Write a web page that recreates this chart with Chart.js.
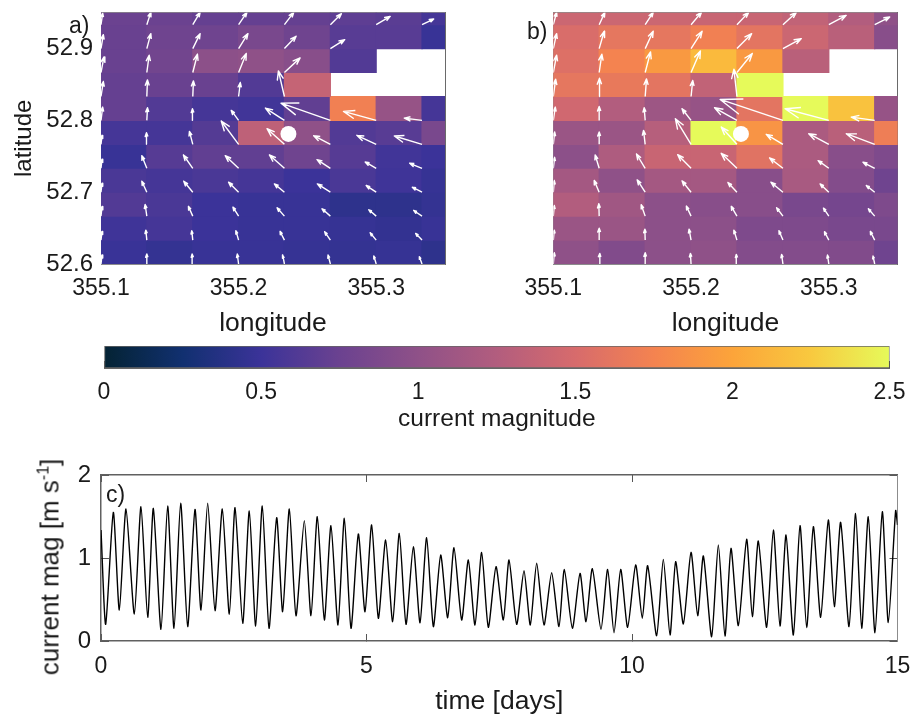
<!DOCTYPE html>
<html>
<head>
<meta charset="utf-8">
<title>current magnitude</title>
<script src="https://cdn.jsdelivr.net/npm/chart.js@4"></script>
<style>
  body { margin: 0; background: #fff; }
  #page { position: relative; width: 910px; height: 715px; overflow: hidden; }
  canvas { position: absolute; }
  .tag { position: absolute; font: 23px "Liberation Sans", sans-serif; color: #1a1a1a; }
  #seriesLabel { left: 50px; top: 567px; font-size: 26px; white-space: nowrap; transform: translate(-50%, -50%) rotate(-90deg); }
  #seriesLabel sup { font-size: 16px; line-height: 0; }
</style>
</head>
<body>
<div id="page">
  <canvas id="mapA" width="460" height="340" style="left:0;top:0"></canvas>
  <canvas id="mapB" width="440" height="340" style="left:470px;top:0"></canvas>
  <canvas id="colorbar" width="910" height="100" style="left:0;top:335px"></canvas>
  <canvas id="series" width="910" height="255" style="left:0;top:460px"></canvas>
  <div class="tag" style="left:69px;top:12px">a)</div>
  <div class="tag" style="left:527px;top:18px">b)</div>
  <div class="tag" style="left:106px;top:481px">c)</div>
  <div class="tag" id="seriesLabel">current mag [m s<sup>-1</sup>]</div>
</div>
<script>
// grid nodes of the current maps
const lonEdges = [355.1, 355.1333, 355.1667, 355.2, 355.2333, 355.2667, 355.3, 355.3333, 355.3667];
const latEdges = [52.6, 52.6333, 52.6667, 52.7, 52.7333, 52.7667, 52.8, 52.8333, 52.8667, 52.9, 52.9333, 52.9667];
const lonTicks = [355.1, 355.2, 355.3];
const latTicks = [52.6, 52.7, 52.8, 52.9];
const siteLon = [355.2362];
const siteLat = [52.7812];

// cell magnitudes, south row first, null = land
const magA = [
  [0.49, 0.46, 0.48, 0.48, 0.47, 0.46, 0.47, 0.42],
  [0.52, 0.55, 0.50, 0.48, 0.48, 0.47, 0.45, 0.48],
  [0.62, 0.58, 0.50, 0.48, 0.48, 0.42, 0.42, 0.46],
  [0.58, 0.55, 0.58, 0.55, 0.50, 0.58, 0.52, 0.47],
  [0.48, 0.64, 0.70, 0.70, 0.78, 0.64, 0.53, 0.50],
  [0.55, 0.55, 0.63, 1.33, 1.00, 0.62, 0.65, 0.85],
  [0.72, 0.62, 0.55, 0.53, 0.70, 1.72, 1.05, 0.55],
  [0.72, 0.74, 0.74, 0.62, 1.38, null, null, null],
  [0.74, 0.80, 0.98, 1.00, 0.95, 0.62, null, null],
  [0.74, 0.78, 0.78, 0.85, 0.78, 0.65, 0.65, 0.48],
  [0.75, 0.75, 0.72, 0.72, 0.72, 0.68, 0.66, 0.55]
];
const magB = [
  [1.00, 0.90, 0.98, 1.00, 0.92, 0.92, 0.90, 0.78],
  [1.08, 1.08, 0.98, 0.98, 0.88, 0.88, 0.85, 0.85],
  [1.25, 1.12, 0.98, 0.95, 0.95, 0.85, 0.82, 0.88],
  [1.15, 1.00, 1.15, 1.15, 0.95, 1.18, 0.92, 0.78],
  [0.98, 1.22, 1.40, 1.40, 1.58, 1.20, 0.95, 0.88],
  [1.08, 1.08, 1.28, 2.50, 1.88, 1.20, 1.30, 1.70],
  [1.45, 1.25, 1.10, 1.05, 1.60, 2.50, 2.20, 1.05],
  [1.62, 1.65, 1.60, 1.35, 2.50, null, null, null],
  [1.55, 1.75, 1.92, 2.15, 1.92, 1.30, null, null],
  [1.52, 1.62, 1.62, 1.72, 1.60, 1.42, 1.30, 0.95],
  [1.42, 1.42, 1.42, 1.40, 1.40, 1.35, 1.25, 1.00]
];

// arrow components, same order as the cells
const uA = [
  [3, 0, -2, -4, -5, -7, -7, -8],
  [3, -3, -3, -8, -13, -17, -18, -19],
  [3, -5, -13, -17, -22, -25, -22, -25],
  [3, -15, -27, -30, -30, -39, -30, -29],
  [3, -15, -28, -40, -45, -40, -33, -37],
  [3, -1, -10, -52, -52, -50, -58, -83],
  [5, 2, -1, -22, -57, -148, -98, -53],
  [7, 2, 2, 5, -18, null, null, null],
  [9, 7, 14, 23, 47, null, null, null],
  [7, 12, 22, 28, 35, 43, null, null],
  [5, 12, 22, 25, 28, 33, 42, 35]
];
const vA = [
  [27, 30, 30, 30, 27, 27, 24, 22],
  [26, 30, 28, 28, 26, 25, 22, 20],
  [29, 35, 29, 27, 25, 22, 19, 17],
  [27, 33, 33, 30, 25, 25, 20, 15],
  [27, 38, 40, 38, 40, 26, 19, 15],
  [27, 35, 39, 70, 47, 26, 27, 25],
  [40, 38, 35, 30, 37, 52, 27, 7],
  [45, 50, 47, 42, 77, null, null, null],
  [47, 52, 55, 57, 44, null, null, null],
  [42, 45, 45, 45, 37, 27, null, null],
  [35, 37, 37, 37, 37, 33, 25, 17]
];
const uB = [
  [3, 2, 0, -2, -2, -4, -4, -5],
  [3, 0, -1, -6, -9, -12, -13, -13],
  [3, -1, -12, -14, -17, -19, -16, -19],
  [3, -15, -24, -27, -27, -36, -26, -25],
  [4, -12, -26, -40, -47, -40, -32, -35],
  [4, 0, -5, -47, -47, -50, -60, -85],
  [6, 0, -3, -27, -67, -188, -131, -70],
  [7, 1, 4, 5, -9, null, null, null],
  [10, 8, 16, 28, 46, null, null, null],
  [10, 15, 24, 33, 44, 55, null, null],
  [10, 17, 24, 31, 35, 40, 52, 45]
];
const vB = [
  [34, 32, 34, 32, 29, 29, 27, 24],
  [30, 36, 33, 33, 30, 28, 25, 26],
  [32, 37, 34, 30, 29, 25, 24, 22],
  [35, 35, 37, 34, 29, 30, 25, 20],
  [33, 40, 43, 41, 45, 31, 23, 18],
  [37, 37, 42, 77, 52, 30, 32, 32],
  [40, 42, 38, 35, 38, 63, 35, 10],
  [52, 55, 53, 48, 82, null, null, null],
  [52, 55, 62, 65, 57, null, null, null],
  [45, 52, 52, 52, 45, 30, null, null],
  [37, 37, 37, 37, 37, 37, 28, 23]
];

// colour scale
const barTicks = [0, 0.5, 1, 1.5, 2, 2.5];
const barMax = 2.5;
const thermal = ['#042333', '#113070', '#3b3399', '#6b4290', '#8f5188', '#b25d7e',
                 '#d76b6c', '#f48350', '#fca43a', '#f8c93f', '#e6fa5a'];

// panel c, peaks and troughs
const timeDays = [
  0, 0.088, 0.232, 0.345, 0.471, 0.628, 0.753, 0.879, 0.986, 1.13, 1.255, 1.375, 1.5, 1.632, 1.77, 1.883,
  2.009, 2.147, 2.285, 2.417, 2.524, 2.668, 2.793, 2.913, 3.038, 3.164, 3.308, 3.421, 3.547, 3.672, 3.829, 3.955,
  4.074, 4.206, 4.331, 4.463, 4.583, 4.708, 4.846, 4.972, 5.097, 5.223, 5.361, 5.493, 5.618, 5.744, 5.882, 6.008,
  6.133, 6.259, 6.397, 6.529, 6.648, 6.792, 6.918, 7.043, 7.169, 7.294, 7.439, 7.577, 7.684, 7.828, 7.966, 8.085,
  8.205, 8.343, 8.487, 8.625, 8.726, 8.877, 9.021, 9.134, 9.253, 9.416, 9.542, 9.661, 9.787, 9.918, 10.069, 10.194,
  10.295, 10.464, 10.59, 10.716, 10.822, 10.967, 11.111, 11.237, 11.344, 11.5, 11.626, 11.751, 11.864, 12.003, 12.159, 12.266,
  12.379, 12.536, 12.662, 12.787, 12.901, 13.039, 13.164, 13.289, 13.415, 13.553, 13.697, 13.81, 13.93, 14.087, 14.212, 14.325,
  14.45, 14.576, 14.714, 14.827, 14.965, 15
];
const currentMag = [
  1.337, 0.201, 1.55, 0.373, 1.59, 0.325, 1.618, 0.285, 1.598, 0.141, 1.627, 0.153, 1.659, 0.173, 1.586, 0.373,
  1.659, 0.365, 1.59, 0.321, 1.606, 0.213, 1.566, 0.181, 1.627, 0.153, 1.486, 0.353, 1.59, 0.305, 1.45, 0.305,
  1.498, 0.253, 1.39, 0.193, 1.478, 0.153, 1.289, 0.353, 1.398, 0.273, 1.217, 0.233, 1.297, 0.201, 1.137, 0.221,
  1.245, 0.173, 1.036, 0.281, 1.124, 0.253, 0.976, 0.193, 1.068, 0.165, 0.896, 0.253, 0.976, 0.201, 0.847, 0.193,
  0.936, 0.193, 0.823, 0.173, 0.863, 0.153, 0.815, 0.233, 0.871, 0.141, 0.863, 0.1, 0.863, 0.165, 0.916, 0.273,
  0.908, 0.064, 0.984, 0.072, 0.956, 0.205, 1.068, 0.305, 1.024, 0.052, 1.157, 0.06, 1.116, 0.185, 1.225, 0.293,
  1.205, 0.165, 1.337, 0.181, 1.277, 0.072, 1.39, 0.161, 1.378, 0.285, 1.458, 0.414, 1.43, 0.173, 1.538, 0.153,
  1.498, 0.1, 1.558, 0.221, 1.57, 1.398
];
const seriesXTicks = [0, 5, 10, 15];
const seriesYTicks = [0, 1, 2];

const FONT = '"Liberation Sans", Arial, sans-serif';
const TEXT = '#1a1a1a';
const FRAME = '#8c8c8c';

function hexRgb(hex) {
  return [1, 3, 5].map(i => parseInt(hex.slice(i, i + 2), 16));
}

function magColor(m) {
  const pos = Math.min(m / barMax, 1) * (thermal.length - 1);
  const i = Math.min(Math.floor(pos), thermal.length - 2);
  const a = hexRgb(thermal[i]), b = hexRgb(thermal[i + 1]);
  const f = pos - i;
  return 'rgb(' + a.map((c, k) => Math.round(c + (b[k] - c) * f)).join(',') + ')';
}

// one bar per cell, floating between its longitude edges
function cellData(mag) {
  const out = [], colors = [];
  mag.forEach((row, r) => row.forEach((m, c) => {
    if (m === null) return;
    out.push({ x: [lonEdges[c], lonEdges[c + 1]], y: (latEdges[r] + latEdges[r + 1]) / 2 });
    colors.push(magColor(m));
  }));
  return { out, colors };
}

// quiver polyline, head shape close to matlab quiver
const LON_UNIT = 0.1 / 412.5;
const LAT_UNIT = 0.1 / 216;
const HEAD_BACK = 0.33;
const HEAD_WIDE = 0.36;
function arrowData(u, v) {
  const pts = [];
  const at = (lon, lat, a, b) => ({ x: lon + a * LON_UNIT, y: lat + b * LAT_UNIT });
  u.forEach((row, r) => row.forEach((du, c) => {
    if (du === null) return;
    const dv = v[r][c], lon = lonEdges[c], lat = latEdges[r];
    const tip = at(lon, lat, du, dv);
    pts.push(at(lon, lat, 0, 0), tip);
    pts.push(at(lon, lat, du - HEAD_BACK * (du + HEAD_WIDE * dv), dv - HEAD_BACK * (dv - HEAD_WIDE * du)), tip);
    pts.push(at(lon, lat, du - HEAD_BACK * (du - HEAD_WIDE * dv), dv - HEAD_BACK * (dv + HEAD_WIDE * du)));
    pts.push({ x: NaN, y: NaN });
  }));
  return pts;
}

function fixedTicks(values) {
  return scale => { scale.ticks = values.map(value => ({ value })); };
}

// pin the axis box and stop tick labels from pushing the plot area in
function pinBox(size) {
  return s => {
    if (s.isHorizontal()) s.height = size; else s.width = size;
    s.paddingLeft = s.paddingRight = s.paddingTop = s.paddingBottom = 0;
  };
}

function edgeAxis(color, width) {
  return {
    offset: false,
    ticks: { display: false },
    grid: { drawOnChartArea: false, drawTicks: false, offset: false },
    border: { color, width },
    afterFit: pinBox(0)
  };
}

function mapChart(id, mag, u, v, yWidth, rightPad, showLat) {
  const cells = cellData(mag);
  new Chart(document.getElementById(id), {
    type: 'bar',
    data: {
      datasets: [
        { type: 'bar', indexAxis: 'y', data: cells.out, backgroundColor: cells.colors,
          grouped: false, categoryPercentage: 1, barPercentage: 1, inflateAmount: 0.6, order: 3 },
        { type: 'line', data: arrowData(u, v), borderColor: '#fff', borderWidth: 1.4,
          borderJoinStyle: 'round', pointRadius: 0, order: 2 },
        { type: 'scatter', data: [{ x: siteLon[0], y: siteLat[0] }], pointRadius: 8,
          backgroundColor: '#fff', borderWidth: 0, order: 1 }
      ]
    },
    options: {
      responsive: false,
      animation: false,
      layout: { padding: { top: 12.7, right: rightPad } },
      plugins: { legend: { display: false }, tooltip: { enabled: false } },
      scales: {
        x: {
          type: 'linear', min: 355.1, max: 355.35, offset: false,
          afterBuildTicks: fixedTicks(lonTicks),
          afterFit: pinBox(76),
          grid: { drawOnChartArea: false, drawTicks: false, offset: false },
          border: { color: FRAME, width: 1 },
          ticks: { padding: 11, maxRotation: 0, autoSkip: false, color: TEXT,
                   font: { family: FONT, size: 23 }, callback: val => val.toFixed(1) },
          title: { display: true, text: 'longitude', color: TEXT, font: { family: FONT, size: 26.5 }, padding: { top: 0, bottom: 0 } }
        },
        y: {
          type: 'linear', min: 52.6, max: 52.95, offset: false,
          afterBuildTicks: fixedTicks(latTicks),
          afterFit: pinBox(yWidth),
          grid: { drawOnChartArea: false, drawTicks: false, offset: false },
          border: { color: FRAME, width: 1 },
          ticks: { display: showLat, padding: 8, color: TEXT, autoSkip: false,
                   font: { family: FONT, size: 24 }, callback: val => val.toFixed(1) },
          title: { display: showLat, text: 'latitude', color: TEXT, font: { family: FONT, size: 24 }, padding: { top: 10, bottom: 0 } }
        },
        xTop: Object.assign(edgeAxis(FRAME, 1), { type: 'linear', position: 'top', min: 355.1, max: 355.35 }),
        yRight: Object.assign(edgeAxis('#6a6a6a', 1), { type: 'linear', position: 'right', min: 52.6, max: 52.95 })
      }
    }
  });
}

mapChart('mapA', magA, uA, vA, 101, 15, true);
mapChart('mapB', magB, uB, vB, 83.3, 12.3, false);

new Chart(document.getElementById('colorbar'), {
  type: 'bar',
  data: {
    labels: [''],
    datasets: [{
      data: [[0, barMax]],
      borderWidth: 1,
      borderColor: '#666',
      borderSkipped: false,
      categoryPercentage: 1,
      barPercentage: 1,
      backgroundColor: ctx => {
        const area = ctx.chart.chartArea;
        if (!area) return thermal[0];
        const g = ctx.chart.ctx.createLinearGradient(area.left, 0, area.right, 0);
        thermal.forEach((c, i) => g.addColorStop(i / (thermal.length - 1), c));
        return g;
      }
    }]
  },
  options: {
    indexAxis: 'y',
    responsive: false,
    animation: false,
    layout: { padding: { top: 11, left: 104, right: 20.4 } },
    plugins: { legend: { display: false }, tooltip: { enabled: false } },
    scales: {
      x: {
        type: 'linear', min: 0, max: barMax,
        afterBuildTicks: fixedTicks(barTicks),
        afterFit: pinBox(67),
        grid: { drawOnChartArea: false, tickLength: -7, tickColor: '#444' },
        border: { color: '#666' },
        ticks: { padding: 18, maxRotation: 0, autoSkip: false, color: TEXT, font: { family: FONT, size: 23 },
                 callback: val => String(val) },
        title: { display: true, text: 'current magnitude', color: TEXT, font: { family: FONT, size: 24.5 }, padding: { top: 0, bottom: 1 } }
      },
      y: { display: false }
    }
  }
});

new Chart(document.getElementById('series'), {
  type: 'line',
  data: {
    datasets: [{
      data: timeDays.map((t, i) => ({ x: t, y: currentMag[i] })),
      borderColor: '#000',
      borderWidth: 1.4,
      pointRadius: 0,
      tension: 0.22
    }]
  },
  options: {
    responsive: false,
    animation: false,
    layout: { padding: { top: 15, right: 12.5 } },
    plugins: { legend: { display: false }, tooltip: { enabled: false } },
    scales: {
      x: {
        type: 'linear', min: 0, max: 15,
        afterBuildTicks: fixedTicks(seriesXTicks),
        afterFit: pinBox(74),
        grid: { drawOnChartArea: false, tickLength: -7, tickColor: '#555' },
        border: { color: '#606060', width: 1.5 },
        ticks: { padding: 19, maxRotation: 0, autoSkip: false, color: TEXT, font: { family: FONT, size: 23 },
                 callback: val => String(val) },
        title: { display: true, text: 'time [days]', color: TEXT, font: { family: FONT, size: 26.5 }, padding: { top: 0, bottom: -3 } }
      },
      y: {
        type: 'linear', min: 0, max: 2,
        afterBuildTicks: fixedTicks(seriesYTicks),
        afterFit: pinBox(101),
        grid: { drawOnChartArea: false, tickLength: -8, tickColor: '#555' },
        border: { color: '#606060', width: 1.5 },
        ticks: { padding: 18, color: TEXT, autoSkip: false, font: { family: FONT, size: 24 },
                 callback: val => String(val) }
      },
      xTop: Object.assign(edgeAxis('#606060', 1.5), {
        type: 'linear', position: 'top', min: 0, max: 15,
        afterBuildTicks: fixedTicks(seriesXTicks),
        grid: { drawOnChartArea: false, tickLength: -7, tickColor: '#555' }
      }),
      yRight: Object.assign(edgeAxis('#8c8c8c', 1), {
        type: 'linear', position: 'right', min: 0, max: 2,
        afterBuildTicks: fixedTicks(seriesYTicks),
        grid: { drawOnChartArea: false, tickLength: -8, tickColor: '#555' }
      })
    }
  }
});
</script>
</body>
</html>
